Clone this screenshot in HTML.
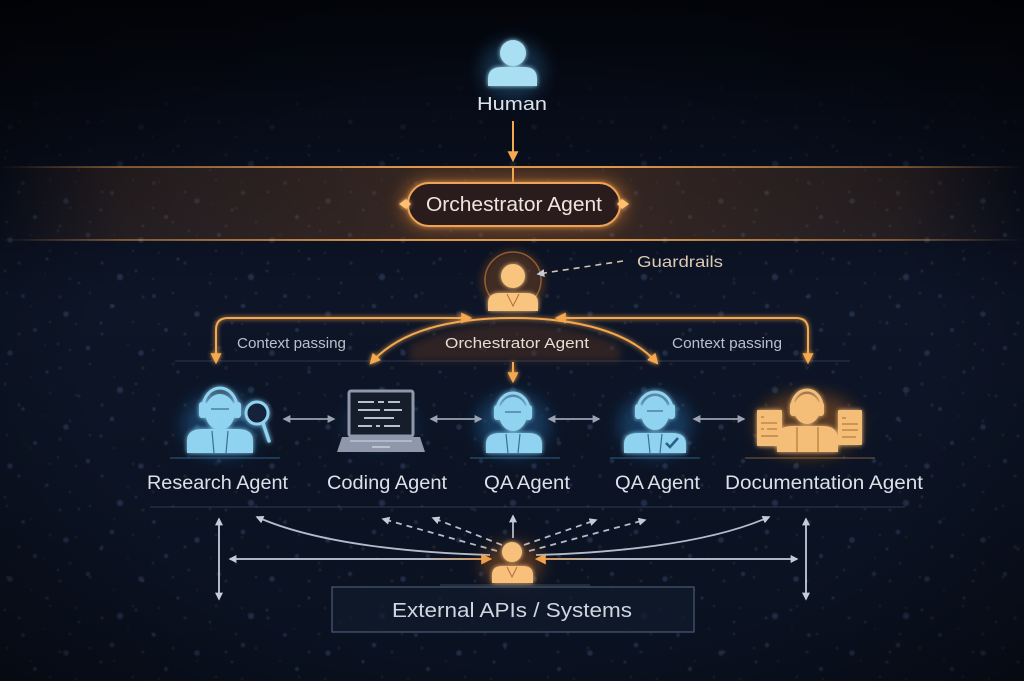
<!DOCTYPE html>
<html><head><meta charset="utf-8">
<style>
html,body{margin:0;padding:0;background:#070b15;}
svg{display:block}
text{font-family:"Liberation Sans",sans-serif;}
</style></head><body>
<svg width="1024" height="681" viewBox="0 0 1024 681" xmlns="http://www.w3.org/2000/svg">
<defs>
 <linearGradient id="bg" x1="0" y1="0" x2="0" y2="1">
  <stop offset="0" stop-color="#03050b"/>
  <stop offset="0.15" stop-color="#070b17"/>
  <stop offset="0.45" stop-color="#0d1527"/>
  <stop offset="1" stop-color="#0a1120"/>
 </linearGradient>
 <radialGradient id="vig" cx="0.5" cy="0.55" r="0.75">
  <stop offset="0.55" stop-color="#000" stop-opacity="0"/>
  <stop offset="1" stop-color="#000" stop-opacity="0.55"/>
 </radialGradient>
 <linearGradient id="dotmaskG" x1="0" y1="0" x2="0" y2="1">
  <stop offset="0.1" stop-color="#fff" stop-opacity="0"/>
  <stop offset="0.32" stop-color="#fff" stop-opacity="1"/>
  <stop offset="1" stop-color="#fff" stop-opacity="1"/>
 </linearGradient>
 <mask id="dotmask"><rect width="1024" height="681" fill="url(#dotmaskG)"/></mask>
 <pattern id="dotsA" width="131" height="113" patternUnits="userSpaceOnUse">
  <g fill="#7098d6" opacity=".2">
   <circle cx="10" cy="14" r="2.8"/><circle cx="47" cy="33" r="1.6"/><circle cx="88" cy="9" r="2.2"/>
   <circle cx="120" cy="51" r="3.2"/><circle cx="23" cy="70" r="1.9"/><circle cx="66" cy="88" r="2.8"/>
   <circle cx="101" cy="97" r="1.5"/><circle cx="35" cy="104" r="2.1"/><circle cx="79" cy="57" r="1.3"/>
   <circle cx="5" cy="45" r="1.4"/><circle cx="58" cy="5" r="1.2"/><circle cx="112" cy="80" r="2.3"/>
  </g>
 </pattern>
 <pattern id="dotsB" width="83" height="71" patternUnits="userSpaceOnUse">
  <g fill="#c9a586" opacity=".14">
   <circle cx="7" cy="9" r="1.3"/><circle cx="31" cy="22" r="1"/><circle cx="60" cy="13" r="1.5"/>
   <circle cx="76" cy="40" r="1.1"/><circle cx="19" cy="50" r="1.6"/><circle cx="45" cy="61" r="0.9"/>
   <circle cx="70" cy="66" r="1.3"/><circle cx="50" cy="38" r="1.2"/>
  </g>
 </pattern>
 <filter id="soft" x="0" y="0" width="1" height="1"><feGaussianBlur stdDeviation="0.9"/></filter>
 <linearGradient id="bandFill" x1="0" y1="0" x2="1" y2="0">
  <stop offset="0" stop-color="#7a4a25" stop-opacity="0"/>
  <stop offset="0.12" stop-color="#7a4a25" stop-opacity=".22"/>
  <stop offset="0.5" stop-color="#8a5228" stop-opacity=".38"/>
  <stop offset="0.88" stop-color="#7a4a25" stop-opacity=".22"/>
  <stop offset="1" stop-color="#7a4a25" stop-opacity="0"/>
 </linearGradient>
 <linearGradient id="bandLine" x1="0" y1="0" x2="1" y2="0">
  <stop offset="0" stop-color="#f0a050" stop-opacity="0"/>
  <stop offset="0.12" stop-color="#f0a050" stop-opacity=".45"/>
  <stop offset="0.4" stop-color="#f3a552" stop-opacity=".9"/>
  <stop offset="0.6" stop-color="#f3a552" stop-opacity=".9"/>
  <stop offset="0.88" stop-color="#f0a050" stop-opacity=".45"/>
  <stop offset="1" stop-color="#f0a050" stop-opacity="0"/>
 </linearGradient>
 <linearGradient id="midL" x1="189" y1="0" x2="405" y2="0" gradientUnits="userSpaceOnUse">
  <stop offset="0" stop-color="#f3a552" stop-opacity="0"/>
  <stop offset="1" stop-color="#ffb865" stop-opacity="1"/>
 </linearGradient>
 <linearGradient id="midR" x1="623" y1="0" x2="843" y2="0" gradientUnits="userSpaceOnUse">
  <stop offset="0" stop-color="#ffb865" stop-opacity="1"/>
  <stop offset="1" stop-color="#f3a552" stop-opacity="0"/>
 </linearGradient>
 <linearGradient id="hL" x1="228" y1="0" x2="492" y2="0" gradientUnits="userSpaceOnUse">
  <stop offset="0" stop-color="#c4ccda"/>
  <stop offset="0.75" stop-color="#c4ccda"/>
  <stop offset="1" stop-color="#f5a850"/>
 </linearGradient>
 <linearGradient id="hR" x1="535" y1="0" x2="800" y2="0" gradientUnits="userSpaceOnUse">
  <stop offset="0" stop-color="#f5a850"/>
  <stop offset="0.25" stop-color="#c4ccda"/>
  <stop offset="1" stop-color="#c4ccda"/>
 </linearGradient>
 <filter id="glow" x="-50%" y="-50%" width="200%" height="200%">
  <feGaussianBlur stdDeviation="2.5" result="b"/>
  <feMerge><feMergeNode in="b"/><feMergeNode in="SourceGraphic"/></feMerge>
 </filter>
 <filter id="blur8" x="-50%" y="-50%" width="200%" height="200%"><feGaussianBlur stdDeviation="8"/></filter>
 <filter id="blur4" x="-50%" y="-50%" width="200%" height="200%"><feGaussianBlur stdDeviation="4"/></filter>
 <marker id="aO" viewBox="0 0 10 10" refX="8" refY="5" markerWidth="11" markerHeight="11" markerUnits="userSpaceOnUse" orient="auto-start-reverse">
  <path d="M0,0 L10,5 L0,10 z" fill="#f5a850"/>
 </marker>
 <marker id="aG" viewBox="0 0 10 10" refX="8" refY="5" markerWidth="8" markerHeight="8" markerUnits="userSpaceOnUse" orient="auto-start-reverse">
  <path d="M0,0 L10,5 L0,10 z" fill="#c4ccda"/>
 </marker>
 <marker id="aG2" viewBox="0 0 10 10" refX="8" refY="5" markerWidth="8" markerHeight="8" markerUnits="userSpaceOnUse" orient="auto-start-reverse">
  <path d="M0,0 L10,5 L0,10 z" fill="#9aa3b2"/>
 </marker>
</defs>

<!-- background -->
<rect width="1024" height="681" fill="url(#bg)"/>
<g mask="url(#dotmask)">
 <g filter="url(#soft)">
  <rect width="1024" height="681" fill="url(#dotsA)"/>
  <rect width="1024" height="681" fill="url(#dotsB)"/>
 </g>
</g>
<rect width="1024" height="681" fill="url(#vig)"/>

<!-- Human -->
<ellipse cx="513" cy="70" rx="32" ry="30" fill="#3aa0e0" opacity=".25" filter="url(#blur8)"/>
<g fill="#a9def3" filter="url(#glow)">
 <circle cx="513" cy="53" r="13"/>
 <path d="M488,86 L488,79 Q488,67 502,67 L524,67 Q537,67 537,79 L537,86 Z"/>
</g>
<text x="512" y="110" font-size="18" fill="#dde2ea" text-anchor="middle" textLength="70" lengthAdjust="spacingAndGlyphs">Human</text>
<line x1="513" y1="121" x2="513" y2="160" stroke="#f5a850" stroke-width="2" marker-end="url(#aO)"/>

<!-- Orchestrator band -->
<rect x="0" y="167" width="1024" height="73" fill="url(#bandFill)"/>
<rect x="0" y="166" width="1024" height="2" fill="url(#bandLine)"/>
<rect x="0" y="239" width="1024" height="2" fill="url(#bandLine)"/>
<line x1="189" y1="204" x2="405" y2="204" stroke="url(#midL)" stroke-width="2" filter="url(#glow)"/>
<line x1="623" y1="204" x2="843" y2="204" stroke="url(#midR)" stroke-width="2" filter="url(#glow)"/>
<line x1="513" y1="168" x2="513" y2="183" stroke="#f5a850" stroke-width="2"/>
<rect x="400" y="178" width="228" height="52" rx="26" fill="#f08a30" opacity=".35" filter="url(#blur8)"/>
<rect x="408" y="183" width="212" height="43" rx="21" fill="#2b1f1d" stroke="#f0a255" stroke-width="2" filter="url(#glow)"/>
<path d="M399,204 L406,199 L411,204 L406,209 Z" fill="#ffc070" filter="url(#glow)"/>
<path d="M629,204 L622,199 L617,204 L622,209 Z" fill="#ffc070" filter="url(#glow)"/>
<text x="514" y="211" font-size="20" fill="#eee6de" text-anchor="middle" textLength="176" lengthAdjust="spacingAndGlyphs">Orchestrator Agent</text>
<line x1="513" y1="226" x2="513" y2="262" stroke="#f5a850" stroke-width="2" filter="url(#glow)"/>

<!-- top orange person -->
<circle cx="513" cy="282" r="32" fill="#a05a20" opacity=".35" filter="url(#blur4)"/>
<circle cx="513" cy="280" r="28" fill="none" stroke="#e08a3a" stroke-opacity=".55" stroke-width="1.5"/>
<g fill="#f8c47e" filter="url(#glow)">
 <circle cx="513" cy="276" r="12"/>
 <path d="M488,311 L488,303 Q488,293 500,293 L526,293 Q538,293 538,303 L538,311 Z"/>
</g>
<path d="M507,294 L513,306 L519,294" fill="none" stroke="#b0703a" stroke-width="1"/>

<!-- Guardrails -->
<line x1="623" y1="261" x2="538" y2="274" stroke="#d6c2aa" stroke-width="1.6" stroke-dasharray="6,5" marker-end="url(#aG)"/>
<text x="637" y="267" font-size="16" fill="#dccbb5" textLength="86" lengthAdjust="spacingAndGlyphs">Guardrails</text>

<!-- context band -->
<path d="M410,361 L410,345 Q513,300 620,345 L620,361 Z" fill="#5a3422" opacity=".45" filter="url(#blur4)"/>
<line x1="175" y1="361" x2="850" y2="361" stroke="#6d7890" stroke-opacity=".35" stroke-width="1"/>
<g fill="none" stroke="#f5a850" stroke-width="2" filter="url(#glow)">
 <path d="M216,362 L216,330 Q216,318 228,318 L470,318" marker-start="url(#aO)" marker-end="url(#aO)"/>
 <path d="M808,362 L808,330 Q808,318 796,318 L557,318" marker-start="url(#aO)" marker-end="url(#aO)"/>
 <path d="M513,318 C452,318 400,330 371,363" marker-end="url(#aO)"/>
 <path d="M513,318 C578,318 630,332 657,363" marker-end="url(#aO)"/>
 <line x1="513" y1="362" x2="513" y2="381" marker-end="url(#aO)"/>
</g>
<text x="237" y="348" font-size="15" fill="#b9c0cc" textLength="109" lengthAdjust="spacingAndGlyphs">Context passing</text>
<text x="445" y="348" font-size="15" fill="#e8ddd0" textLength="144" lengthAdjust="spacingAndGlyphs">Orchestrator Agent</text>
<text x="672" y="348" font-size="15" fill="#b9c0cc" textLength="110" lengthAdjust="spacingAndGlyphs">Context passing</text>

<!-- agent halos -->
<g filter="url(#blur8)">
 <ellipse cx="222" cy="425" rx="40" ry="32" fill="#2a80c8" opacity=".35"/>
 <ellipse cx="513" cy="425" rx="36" ry="32" fill="#2a80c8" opacity=".35"/>
 <ellipse cx="655" cy="425" rx="36" ry="32" fill="#2a80c8" opacity=".35"/>
 <ellipse cx="808" cy="425" rx="52" ry="32" fill="#e07a20" opacity=".35"/>
 <ellipse cx="380" cy="425" rx="40" ry="30" fill="#3060a0" opacity=".15"/>
</g>
<g opacity=".5">
 <line x1="170" y1="458" x2="280" y2="458" stroke="#4aa6e8" stroke-width="1"/>
 <line x1="470" y1="458" x2="560" y2="458" stroke="#4aa6e8" stroke-width="1"/>
 <line x1="610" y1="458" x2="700" y2="458" stroke="#4aa6e8" stroke-width="1"/>
 <line x1="745" y1="458" x2="875" y2="458" stroke="#f0a050" stroke-width="1"/>
</g>

<!-- Research agent -->
<g filter="url(#glow)">
 <g fill="#8fd3f0">
  <ellipse cx="220" cy="412" rx="15" ry="18"/>
  <rect x="199" y="402" width="8" height="16" rx="3"/>
  <rect x="233" y="402" width="8" height="16" rx="3"/>
  <path d="M187,453 L187,441 Q187,429 202,429 L238,429 Q253,429 253,441 L253,453 Z"/>
 </g>
 <path d="M203,408 A17,20 0 0 1 237,408" fill="none" stroke="#8fd3f0" stroke-width="3"/>
 <circle cx="257" cy="413" r="11" fill="#14243a" stroke="#8fd3f0" stroke-width="3"/>
 <line x1="263" y1="423" x2="269" y2="441" stroke="#8fd3f0" stroke-width="3.5" stroke-linecap="round"/>
</g>
<g stroke="#3a6f95" stroke-width="1.2" fill="none">
 <line x1="211" y1="409" x2="229" y2="409"/>
 <line x1="212" y1="431" x2="214" y2="453"/><line x1="228" y1="431" x2="226" y2="453"/>
</g>

<!-- Coding agent laptop -->
<g>
 <rect x="349" y="391" width="64" height="45" rx="2" fill="#161d2b" stroke="#8e98aa" stroke-width="3"/>
 <g stroke="#b8c0cc" stroke-width="2">
  <line x1="358" y1="402" x2="374" y2="402"/><line x1="378" y1="402" x2="384" y2="402"/><line x1="388" y1="402" x2="400" y2="402"/>
  <line x1="358" y1="410" x2="380" y2="410"/><line x1="384" y1="410" x2="402" y2="410"/>
  <line x1="364" y1="418" x2="394" y2="418"/>
  <line x1="358" y1="426" x2="372" y2="426"/><line x1="376" y1="426" x2="380" y2="426"/><line x1="384" y1="426" x2="400" y2="426"/>
 </g>
 <path d="M342,437 L420,437 L425,452 L337,452 Z" fill="#8e98aa"/>
 <line x1="350" y1="441" x2="412" y2="441" stroke="#b8c4d6" stroke-width="1.5"/>
 <line x1="372" y1="447" x2="390" y2="447" stroke="#c8d0dc" stroke-width="1.5"/>
</g>

<!-- QA agent 1 -->
<g filter="url(#glow)">
 <g fill="#8fd3f0">
  <ellipse cx="513" cy="414" rx="14" ry="17"/>
  <rect x="494" y="405" width="7" height="15" rx="3"/>
  <rect x="525" y="405" width="7" height="15" rx="3"/>
  <path d="M486,453 L486,444 Q486,433 500,433 L528,433 Q542,433 542,444 L542,453 Z"/>
 </g>
 <path d="M497,411 A16,18 0 0 1 529,411" fill="none" stroke="#8fd3f0" stroke-width="3"/>
</g>
<g stroke="#3a6f95" stroke-width="1.2" fill="none">
 <line x1="505" y1="412" x2="521" y2="412"/>
 <line x1="506" y1="434" x2="508" y2="453"/><line x1="520" y1="434" x2="518" y2="453"/>
</g>

<!-- QA agent 2 -->
<g filter="url(#glow)">
 <g fill="#8fd3f0">
  <ellipse cx="655" cy="413" rx="14" ry="17"/>
  <rect x="635" y="404" width="7" height="15" rx="3"/>
  <rect x="668" y="404" width="7" height="15" rx="3"/>
  <path d="M624,453 L624,444 Q624,433 638,433 L672,433 Q686,433 686,444 L686,453 Z"/>
 </g>
 <path d="M638,410 A17,18 0 0 1 672,410" fill="none" stroke="#8fd3f0" stroke-width="3"/>
</g>
<g stroke="#3a6f95" stroke-width="1.2" fill="none">
 <line x1="647" y1="411" x2="663" y2="411"/>
 <line x1="648" y1="434" x2="650" y2="453"/><line x1="662" y1="434" x2="660" y2="453"/>
</g>
<path d="M666,443 L670,447 L678,438" fill="none" stroke="#2a5f88" stroke-width="2.5"/>

<!-- Documentation agent -->
<g filter="url(#glow)">
 <g fill="#f5be78">
  <rect x="757" y="410" width="25" height="36" rx="1"/>
  <rect x="838" y="410" width="24" height="35" rx="1"/>
  <ellipse cx="807" cy="409" rx="13" ry="15"/>
  <rect x="790" y="402" width="7" height="14" rx="3"/>
  <rect x="817" y="402" width="7" height="14" rx="3"/>
  <path d="M777,452 L777,440 Q777,426 792,426 L823,426 Q838,426 838,440 L838,452 Z"/>
 </g>
 <path d="M792,407 A15,17 0 0 1 822,407" fill="none" stroke="#f5be78" stroke-width="3"/>
</g>
<g stroke="#b07a3a" stroke-width="1.2" fill="none">
 <line x1="761" y1="417" x2="764" y2="417"/><line x1="761" y1="423" x2="777" y2="423"/>
 <line x1="761" y1="429" x2="764" y2="429"/><line x1="767" y1="429" x2="777" y2="429"/>
 <line x1="761" y1="436" x2="778" y2="436"/>
 <line x1="842" y1="418" x2="846" y2="418"/><line x1="842" y1="424" x2="858" y2="424"/>
 <line x1="842" y1="430" x2="858" y2="430"/><line x1="842" y1="437" x2="856" y2="437"/>
 <line x1="797" y1="427" x2="797" y2="452"/><line x1="818" y1="427" x2="818" y2="452"/>
</g>

<!-- horizontal double arrows between agents -->
<g stroke="#9aa3b2" stroke-width="1.8" marker-start="url(#aG2)" marker-end="url(#aG2)">
 <line x1="284" y1="419" x2="334" y2="419"/>
 <line x1="431" y1="419" x2="481" y2="419"/>
 <line x1="549" y1="419" x2="599" y2="419"/>
 <line x1="694" y1="419" x2="744" y2="419"/>
</g>

<!-- agent labels -->
<g font-size="19" fill="#dce1e8">
 <text x="147" y="489" textLength="141" lengthAdjust="spacingAndGlyphs">Research Agent</text>
 <text x="327" y="489" textLength="120" lengthAdjust="spacingAndGlyphs">Coding Agent</text>
 <text x="484" y="489" textLength="86" lengthAdjust="spacingAndGlyphs">QA Agent</text>
 <text x="615" y="489" textLength="85" lengthAdjust="spacingAndGlyphs">QA Agent</text>
 <text x="725" y="489" textLength="198" lengthAdjust="spacingAndGlyphs">Documentation Agent</text>
</g>
<line x1="150" y1="507" x2="905" y2="507" stroke="#7380a0" stroke-opacity=".35" stroke-width="1"/>

<!-- bottom connectors -->
<g fill="none" stroke-width="1.8">
 <line x1="219" y1="519" x2="219" y2="599" stroke="#c4ccda" marker-start="url(#aG)" marker-end="url(#aG)"/>
 <line x1="806" y1="519" x2="806" y2="599" stroke="#c4ccda" marker-start="url(#aG)" marker-end="url(#aG)"/>
 <line x1="230" y1="559" x2="490" y2="559" stroke="url(#hL)" marker-start="url(#aG)" marker-end="url(#aO)"/>
 <line x1="537" y1="559" x2="797" y2="559" stroke="url(#hR)" marker-start="url(#aO)" marker-end="url(#aG)"/>
 <path d="M490,555 C420,553 320,545 257,517" stroke="#b4bccb" marker-end="url(#aG)"/>
 <path d="M536,555 C606,553 706,545 769,517" stroke="#b4bccb" marker-end="url(#aG)"/>
 <line x1="497" y1="551" x2="383" y2="519" stroke="#b4bccb" stroke-dasharray="6,5" marker-end="url(#aG)"/>
 <line x1="502" y1="545" x2="433" y2="518" stroke="#b4bccb" stroke-dasharray="6,5" marker-end="url(#aG)"/>
 <line x1="524" y1="545" x2="596" y2="520" stroke="#b4bccb" stroke-dasharray="6,5" marker-end="url(#aG)"/>
 <line x1="529" y1="551" x2="645" y2="520" stroke="#b4bccb" stroke-dasharray="6,5" marker-end="url(#aG)"/>
 <line x1="513" y1="538" x2="513" y2="516" stroke="#b4bccb" marker-end="url(#aG)"/>
</g>

<!-- bottom orange person -->
<ellipse cx="512" cy="565" rx="30" ry="22" fill="#e07a20" opacity=".35" filter="url(#blur8)"/>
<g fill="#f8c07a" filter="url(#glow)">
 <circle cx="512" cy="552" r="10"/>
 <path d="M492,583 L492,575 Q492,566 502,566 L523,566 Q533,566 533,575 L533,583 Z"/>
</g>
<path d="M507,567 L512,577 L517,567" fill="none" stroke="#b0703a" stroke-width="1"/>
<line x1="440" y1="585" x2="590" y2="585" stroke="#8090a8" stroke-opacity=".4" stroke-width="1"/>

<!-- External APIs box -->
<rect x="332" y="587" width="362" height="45" fill="#121b2c" fill-opacity=".75" stroke="#4a5a75" stroke-width="1.2"/>
<text x="512" y="617" font-size="20" fill="#d0d6e0" text-anchor="middle" textLength="240" lengthAdjust="spacingAndGlyphs">External APIs / Systems</text>
</svg>
</body></html>
